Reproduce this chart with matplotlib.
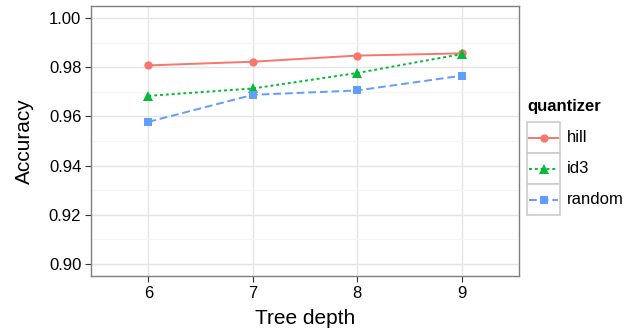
import matplotlib
matplotlib.use('Agg')
import matplotlib.pyplot as plt
from matplotlib.lines import Line2D
from matplotlib.patches import Rectangle

plt.rcParams['font.family'] = ['Liberation Sans', 'DejaVu Sans']

#Datos:
depth = [6, 7, 8, 9]
hill = [0.9808, 0.9823, 0.9848, 0.9857]
id3 = [0.9684, 0.9714, 0.9777, 0.9854]
random_q = [0.9578, 0.9688, 0.9706, 0.9766]
names = ['hill', 'id3', 'random']
series = [hill, id3, random_q]
cols = ['#F8766D', '#00BA38', '#619CFF']
marks = ['o', '^', 's']
msizes = [6, 7.5, 6]
styles = ['-', (0, (1.5, 1.5)), (0, (4, 2))]
yticks = [0.90, 0.92, 0.94, 0.96, 0.98, 1.00]

W, H = 641, 331
fig = plt.figure(figsize=(W / 100, H / 100), dpi=100)
ax = fig.add_axes([91 / W, 1 - 276 / H, 428 / W, 270 / H])

for s, c, m, ms, ls in zip(series, cols, marks, msizes, styles):
    ax.plot(depth, s, color=c, marker=m, markersize=ms, linestyle=ls,
            linewidth=1.4, markeredgewidth=0, zorder=3)

ax.set_xlim(5.45, 9.55)
ax.set_ylim(0.895, 1.005)
ax.set_xticks(depth)
ax.set_yticks(yticks)
ax.set_yticklabels(['%.2f' % v for v in yticks])
ax.set_yticks([0.91, 0.93, 0.95, 0.97, 0.99], minor=True)
ax.grid(True, which='major', color='#e5e5e5', linewidth=1.0)
ax.grid(True, which='minor', axis='y', color='#f5f5f5', linewidth=0.8)
ax.set_axisbelow(True)
for sp in ax.spines.values():
    sp.set_color('#7f7f7f')
    sp.set_linewidth(1.0)
ax.tick_params(which='major', length=4, color='#333333', labelsize=12,
               labelcolor='black', pad=3)
ax.tick_params(which='minor', length=0)
ax.set_xlabel('Tree depth', fontsize=15, labelpad=6)
ax.set_ylabel('Accuracy', fontsize=15, labelpad=11)

#Leyenda manual:
lg = fig.add_axes([0, 0, 1, 1])
lg.set_xlim(0, W)
lg.set_ylim(H, 0)
lg.axis('off')
lg.text(527, 107, 'quantizer', fontsize=12, fontweight='bold', va='center', ha='left')
y0 = 122
for i, (n, c, m, ms, ls) in enumerate(zip(names, cols, marks, msizes, styles)):
    top = y0 + i * 31
    lg.add_patch(Rectangle((527, top), 33, 31, facecolor='white',
                           edgecolor='#cccccc', linewidth=1.2))
    lg.add_line(Line2D([529, 558], [top + 15.5, top + 15.5], color=c,
                       linestyle=ls, linewidth=1.4))
    lg.plot([543.5], [top + 15.5], marker=m, color=c, markersize=ms,
            markeredgewidth=0)
    lg.text(567, top + 15.5, n, fontsize=12, va='center', ha='left')

fig.savefig('out.png', dpi=100)
